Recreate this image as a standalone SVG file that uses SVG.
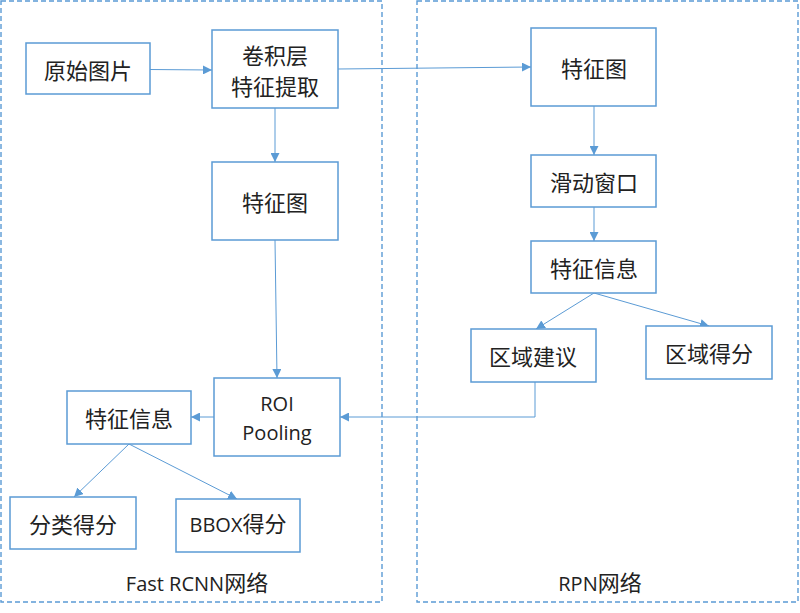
<svg xmlns="http://www.w3.org/2000/svg" width="800" height="613" viewBox="0 0 800 613">
<style>
.box{fill:#fff;stroke:#5B9BD5;stroke-width:1.5}
.cont{fill:none;stroke:#5B9BD5;stroke-width:1.4;stroke-dasharray:5 3}
.cn{font-family:"Noto Sans CJK SC","Liberation Sans",sans-serif;font-size:22px;fill:#222;text-anchor:middle;dominant-baseline:central}
.lat{font-family:"Open Sans","Noto Sans CJK SC",sans-serif;font-size:20px;fill:#222;text-anchor:middle}
.conn{fill:none;stroke:#5B9BD5;stroke-width:1;marker-end:url(#ah)}
</style>
<defs>
<marker id="ah" markerUnits="userSpaceOnUse" markerWidth="9" markerHeight="9" refX="9" refY="4.5" orient="auto" viewBox="0 0 9 9">
<path d="M0,0 L9,4.5 L0,9 z" fill="#5B9BD5"/>
</marker>
</defs>
<rect class="cont" x="1" y="1" width="381" height="601"/>
<rect class="cont" x="417" y="1" width="381" height="601"/>
<text class="lat" x="197" y="591"><tspan>Fast RCNN</tspan><tspan font-family="Noto Sans CJK SC" font-size="22">网络</tspan></text>
<text class="lat" x="600" y="591"><tspan>RPN</tspan><tspan font-family="Noto Sans CJK SC" font-size="22">网络</tspan></text>
<g id="connectors">
<path class="conn" d="M150,69.5 L212,70"/>
<path class="conn" d="M338,69 L531,67"/>
<path class="conn" d="M275,108 L275,162"/>
<path class="conn" d="M594,106 L594,155"/>
<path class="conn" d="M594,207 L594,241"/>
<path class="conn" d="M594,293 L536,329"/>
<path class="conn" d="M594,293 L709,326"/>
<path class="conn" d="M535,382 L535,417 L340,417"/>
<path class="conn" d="M275,240 L277,378"/>
<path class="conn" d="M214,417 L191,417"/>
<path class="conn" d="M129,444 L74,497"/>
<path class="conn" d="M129,444 L237,499"/>
</g>
<g id="n_yuanshi"><rect class="box" x="26" y="43" width="124" height="51"/><text class="cn" x="88" y="68.5">原始图片</text></g>
<g id="n_juanji"><rect class="box" x="212" y="30" width="126" height="78"/><text class="cn" font-size="21"><tspan x="275" y="53.5">卷积层</tspan><tspan x="275" y="85">特征提取</tspan></text></g>
<g id="n_tezhengtu_l"><rect class="box" x="212" y="162" width="126" height="78"/><text class="cn" x="275" y="201">特征图</text></g>
<g id="n_roi"><rect class="box" x="214" y="378" width="126" height="78"/><text class="lat"><tspan x="277" y="411">ROI</tspan><tspan x="277" y="440">Pooling</tspan></text></g>
<g id="n_xinxi_l"><rect class="box" x="67" y="391" width="124" height="53"/><text class="cn" x="129" y="417">特征信息</text></g>
<g id="n_fenlei"><rect class="box" x="10" y="497" width="126" height="52"/><text class="cn" x="73" y="523">分类得分</text></g>
<g id="n_bbox"><rect class="box" x="176" y="499" width="124" height="53"/><text class="lat" x="238" y="532"><tspan>BBOX</tspan><tspan font-family="Noto Sans CJK SC" font-size="22">得分</tspan></text></g>
<g id="n_tezhengtu_r"><rect class="box" x="531" y="28" width="125" height="78"/><text class="cn" x="594" y="67">特征图</text></g>
<g id="n_huadong"><rect class="box" x="531" y="155" width="125" height="52"/><text class="cn" x="594" y="181">滑动窗口</text></g>
<g id="n_xinxi_r"><rect class="box" x="531" y="241" width="125" height="52"/><text class="cn" x="594" y="267">特征信息</text></g>
<g id="n_jianyi"><rect class="box" x="471" y="329" width="125" height="53"/><text class="cn" x="533" y="355">区域建议</text></g>
<g id="n_defen"><rect class="box" x="646" y="326" width="126" height="53"/><text class="cn" x="709" y="352">区域得分</text></g>
</svg>
